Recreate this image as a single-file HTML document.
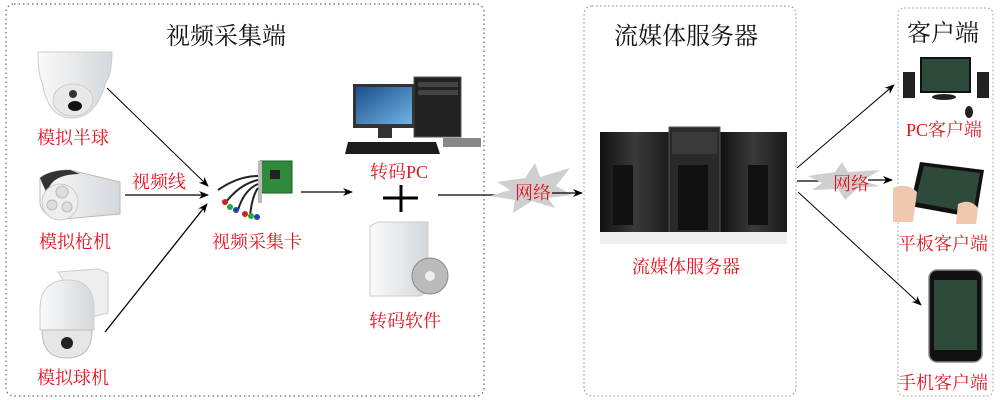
<!DOCTYPE html>
<html><head><meta charset="utf-8"><style>
html,body{margin:0;padding:0;background:#fff;width:1000px;height:400px;overflow:hidden}
svg{display:block}
.t{font-family:"Liberation Serif","Noto Serif CJK SC","Noto Sans CJK SC",serif}
.r{fill:#e0141e;font-size:18px}
.h{fill:#111;font-size:24px}
</style></head><body>
<svg width="1000" height="400" viewBox="0 0 1000 400" xmlns="http://www.w3.org/2000/svg">
<defs>
<marker id="a" markerWidth="10" markerHeight="8" refX="9" refY="4" orient="auto" markerUnits="userSpaceOnUse"><path d="M0,0 L10,4 L0,8 L3,4z" fill="#000"/></marker>
<linearGradient id="srv" x1="0" x2="1"><stop offset="0" stop-color="#111"/><stop offset=".5" stop-color="#3a3a3a"/><stop offset="1" stop-color="#1a1a1a"/></linearGradient>
<linearGradient id="scr" x1="0" x2="1" y1="0" y2="1"><stop offset="0" stop-color="#1c4f8a"/><stop offset="1" stop-color="#6fb3e6"/></linearGradient>
<linearGradient id="wh" x1="0" x2="1"><stop offset="0" stop-color="#fafafa"/><stop offset="1" stop-color="#d4d8dc"/></linearGradient>
</defs>
<rect x="6" y="4" width="478" height="392" rx="8" fill="none" stroke="#666" stroke-width="1.2" stroke-dasharray="1.5,3"/>
<rect x="584" y="6" width="212" height="390" rx="8" fill="none" stroke="#888" stroke-width="1" stroke-dasharray="1.5,2.5"/>
<rect x="898" y="8" width="95" height="388" rx="6" fill="none" stroke="#aaa" stroke-width="1" stroke-dasharray="2,2"/>
<text class="t h" x="226" y="44" text-anchor="middle">视频采集端</text>
<text class="t h" x="686" y="44" text-anchor="middle">流媒体服务器</text>
<text class="t h" x="943" y="41" text-anchor="middle">客户端</text>
<path d="M38,52 h74 q0,22 -6,30 q-10,36 -34,36 q-24,0 -30,-36 q-4,-8 -4,-30z" fill="url(#wh)" stroke="#ccc"/>
<ellipse cx="73" cy="100" rx="20" ry="16" fill="#e8e8e8" stroke="#ccc"/>
<circle cx="73" cy="94" r="4" fill="#333"/><ellipse cx="75" cy="106" rx="7" ry="5" fill="#111"/>
<text class="t r" x="37" y="144">模拟半球</text>
<path d="M40,178 q10,-8 30,-8 l50,12 v32 l-45,4 q-30,4 -35,-14z" fill="url(#wh)" stroke="#bbb"/>
<path d="M40,178 q10,-8 30,-8 l10,4 q-30,0 -33,20z" fill="#333"/>
<ellipse cx="60" cy="202" rx="18" ry="18" fill="#eee" stroke="#ccc"/>
<circle cx="62" cy="192" r="6" fill="#ddd" stroke="#bbb"/><circle cx="52" cy="205" r="5" fill="#ddd" stroke="#bbb"/><circle cx="67" cy="207" r="5" fill="#ddd" stroke="#bbb"/>
<text class="t r" x="39" y="248">模拟枪机</text>
<text class="t r" x="132" y="188">视频线</text>
<path d="M58,272 l40,-3 l10,4 v40 l-20,5 z" fill="#eee" stroke="#ccc"/>
<path d="M40,310 q0,-30 28,-30 q26,0 26,30 v20 h-54z" fill="url(#wh)" stroke="#ccc"/>
<path d="M42,330 h50 q0,28 -25,28 q-25,0 -25,-28z" fill="#e6e6e6" stroke="#bbb"/>
<circle cx="67" cy="343" r="6" fill="#222"/>
<text class="t r" x="37" y="384">模拟球机</text>
<line x1="107" y1="88" x2="208" y2="186" stroke="#000" stroke-width="1" marker-end="url(#a)"/>
<line x1="125" y1="195" x2="208" y2="195" stroke="#000" stroke-width="1.3" marker-end="url(#a)"/>
<line x1="105" y1="332" x2="207" y2="204" stroke="#000" stroke-width="1.3" marker-end="url(#a)"/>
<rect x="260" y="161" width="32" height="32" fill="#2f8a3c" stroke="#1b5e25"/>
<rect x="270" y="170" width="10" height="9" fill="#222"/>
<rect x="258" y="161" width="4" height="42" fill="#bbb"/>
<g stroke-width="2" fill="none">
<path d="M258,176 q-20,0 -40,14" stroke="#222"/><path d="M258,180 q-18,4 -32,22" stroke="#222"/>
<path d="M258,184 q-14,6 -20,26" stroke="#222"/><path d="M258,188 q-6,8 -8,28" stroke="#222"/>
</g>
<circle cx="225" cy="202" r="3" fill="#c22"/><circle cx="230" cy="207" r="3" fill="#2a4"/><circle cx="236" cy="210" r="3" fill="#24a"/><circle cx="245" cy="214" r="3" fill="#c22"/><circle cx="251" cy="216" r="3" fill="#2a4"/><circle cx="257" cy="217" r="3" fill="#24a"/>
<text class="t r" x="212" y="248">视频采集卡</text>
<line x1="301" y1="192" x2="352" y2="192" stroke="#000" stroke-width="1.3" marker-end="url(#a)"/>
<rect x="414" y="77" width="47" height="60" fill="#222" stroke="#555"/>
<rect x="418" y="82" width="40" height="5" fill="#444"/><rect x="418" y="90" width="40" height="5" fill="#444"/>
<rect x="353" y="84" width="62" height="44" fill="#333"/><rect x="356" y="87" width="56" height="37" fill="url(#scr)"/>
<rect x="378" y="128" width="14" height="10" fill="#333"/>
<path d="M348,142 h88 l4,12 h-95z" fill="#1c1c1c"/>
<rect x="443" y="138" width="38" height="9" fill="#888"/>
<text class="t r" x="370" y="178">转码PC</text>
<line x1="383" y1="198" x2="418" y2="198" stroke="#000" stroke-width="3"/>
<line x1="401" y1="185" x2="401" y2="212" stroke="#000" stroke-width="3"/>
<path d="M370,226 l8,-4 h50 v70 l-8,4 h-50z" fill="url(#wh)" stroke="#ccc"/>
<circle cx="430" cy="276" r="18" fill="#bbb" stroke="#888"/><circle cx="430" cy="276" r="5" fill="#eee"/>
<text class="t r" x="369" y="327">转码软件</text>
<line x1="438" y1="195" x2="500" y2="195" stroke="#000" stroke-width="1.3"/>
<polygon points="497,182 525,178 535,163 540,177 570,168 556,186 572,195 548,198 555,208 532,201 513,213 515,200 490,196 510,190" fill="#cfcfcf"/>
<text class="t r" x="515" y="199">网络</text>
<line x1="552" y1="193" x2="582" y2="193" stroke="#000" stroke-width="1.3" marker-end="url(#a)"/>
<rect x="600" y="132" width="70" height="100" fill="url(#srv)"/>
<rect x="720" y="132" width="67" height="100" fill="url(#srv)"/>
<rect x="669" y="127" width="51" height="109" fill="#2a2a2a" stroke="#555"/>
<rect x="678" y="165" width="30" height="65" fill="#111"/>
<rect x="613" y="165" width="20" height="60" fill="#111"/><rect x="748" y="165" width="20" height="60" fill="#111"/>
<rect x="672" y="132" width="45" height="22" fill="#3a3a3a"/>
<rect x="600" y="232" width="187" height="12" fill="#eee"/>
<text class="t r" x="632" y="273">流媒体服务器</text>
<line x1="797" y1="168" x2="894" y2="85" stroke="#000" stroke-width="1" marker-end="url(#a)"/>
<line x1="797" y1="181" x2="822" y2="181" stroke="#000" stroke-width="1.3"/>
<polygon points="808,176 835,172 842,162 848,172 880,170 862,181 880,186 858,188 845,200 838,189 812,190 822,183" fill="#cfcfcf"/>
<text class="t r" x="833" y="190">网络</text>
<line x1="868" y1="180" x2="892" y2="180" stroke="#000" stroke-width="1.3" marker-end="url(#a)"/>
<line x1="798" y1="192" x2="921" y2="305" stroke="#000" stroke-width="1" marker-end="url(#a)"/>
<rect x="920" y="57" width="51" height="36" fill="#111"/><rect x="922" y="59" width="47" height="32" fill="#2d4a3a"/>
<ellipse cx="944" cy="97" rx="12" ry="3" fill="#222"/>
<rect x="903" y="72" width="12" height="26" fill="#222"/><rect x="977" y="72" width="12" height="26" fill="#222"/>
<ellipse cx="969" cy="112" rx="4" ry="6" fill="#222"/>
<text class="t r" x="906" y="136">PC客户端</text>
<path d="M920,162 l64,8 l-8,48 l-66,-12z" fill="#111"/>
<path d="M924,166 l56,7 l-7,40 l-58,-11z" fill="#2d4a3a"/>
<path d="M893,188 q14,-6 24,4 l-4,30 h-20z" fill="#f0c8b0"/>
<path d="M958,204 q12,-6 20,4 l-2,16 h-20z" fill="#f0c8b0"/>
<text class="t r" x="898" y="250">平板客户端</text>
<rect x="929" y="270" width="53" height="92" rx="8" fill="#111" stroke="#888" stroke-width="1.5"/>
<rect x="934" y="280" width="43" height="70" fill="#2d4a3a"/>
<text class="t r" x="898" y="389">手机客户端</text>
</svg>
</body></html>
